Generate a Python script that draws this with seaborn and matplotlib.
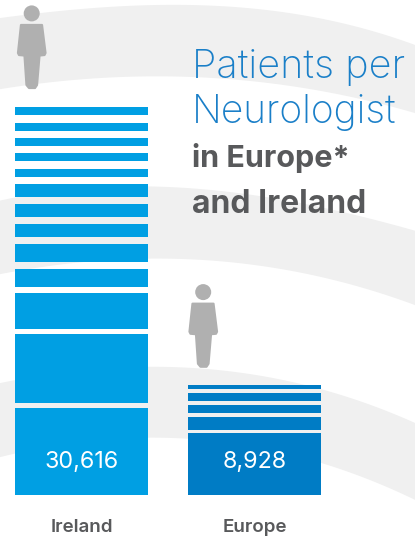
import numpy as np
import pandas as pd
import matplotlib
matplotlib.use("Agg")
import matplotlib.pyplot as plt
from matplotlib.patches import Circle, Polygon
import seaborn as sns

sns.set_theme(style="white")
plt.rcParams['font.family'] = ['Inter', 'DejaVu Sans']

regions = ["Ireland", "Europe"]
value_labels = ["30,616", "8,928"]
# stacked segments from the base upward (patients), with the blank gaps between them
ireland_segments = [6870, 5445, 2840, 1420, 1420, 1025, 1025, 1025, 630, 630, 630, 630, 630]
ireland_gaps = [395, 395, 475, 550, 550, 550, 550, 550, 630, 550, 550, 630]
europe_segments = [4890, 1025, 630, 630, 275]
europe_gaps = [235, 315, 315, 355]
bar_colors = {"Ireland": "#009fe3", "Europe": "#007cc5"}

W, H = 415, 540
fig = plt.figure(figsize=(W / 100, H / 100), dpi=100)

# background decoration, in pixel coordinates
bg = fig.add_axes([0, 0, 1, 1], zorder=0)
bg.set_xlim(0, W); bg.set_ylim(H, 0); bg.axis("off")
bands = [
    ([0, 60, 130, 200, 260, 315, 370, 415], [18, 11, 6, 5, 9, 18, 30, 45],
     [0, 80, 160, 220, 280, 315, 365, 415], [89, 80, 76, 78, 85, 90, 100, 113]),
    ([0, 80, 160, 230, 280, 315, 415], [200, 190, 187, 190, 197, 210, 230],
     [0, 80, 160, 287, 315, 415], [274, 263, 258, 270, 276, 305]),
    ([0, 80, 160, 250, 315, 415], [383, 371, 366, 375, 387, 423],
     [0, 80, 160, 250, 315, 415], [457, 443, 436, 448, 460, 500]),
]
xs = np.linspace(0, W, 200)
for xt, yt, xb, yb in bands:
    top = np.polyval(np.polyfit(xt, yt, 3), xs)
    bot = np.polyval(np.polyfit(xb, yb, 3), xs)
    bg.fill_between(xs, top, bot, color="#f0f0f0", lw=0)

body = np.array([(21, 25), (42, 25), (45.5, 53), (44.5, 55), (39.5, 55.5), (37, 85), (35, 88), (29, 88),
                 (26.5, 85), (24.5, 55.5), (19, 55), (18, 53)])
for dx, dy in [(0, 0), (171.5, 278.7)]:
    bg.add_patch(Circle((31.7 + dx, 13.4 + dy), 8, color="#b0b0b0", lw=0))
    bg.add_patch(Polygon(body + (dx, dy), closed=True, fc="#b0b0b0", ec="#b0b0b0",
                         lw=1.6, joinstyle="round"))

# bars
ax = fig.add_axes([0, 0, 1, 1], zorder=1)
ax.patch.set_alpha(0)
for region, segs, gaps in [("Ireland", ireland_segments, ireland_gaps),
                           ("Europe", europe_segments, europe_gaps)]:
    base = 0
    for i, v in enumerate(segs):
        df = pd.DataFrame({"region": [region], "patients": [v]})
        sns.barplot(data=df, x="region", y="patients", order=regions, color=bar_colors[region],
                    saturation=1, width=133 / 173, errorbar=None, bottom=base, ax=ax, linewidth=0)
        if i < len(gaps):
            base += v + gaps[i]

ax.set_xlim(-81.5 / 173, (W - 81.5) / 173)
scale = 78.9
ax.set_ylim(-(H - 495) * scale, 495 * scale)
ax.axis("off")

for i, (r, t) in enumerate(zip(regions, value_labels)):
    ax.text(i, (495 - 467.5) * scale, t, color="white", ha="center", va="baseline", fontsize=16.8)
    ax.text(i, (495 - 532) * scale, r, color="#58595b", ha="center", va="baseline",
            fontsize=13.5, fontweight="semibold")

def title(y, s, color, size, weight):
    fig.text(191.5 / W, 1 - y / H, s, color=color, fontsize=size, fontweight=weight,
             ha="left", va="baseline", zorder=3)

title(78, "Patients per", "#1a7fc8", 28.5, "light")
title(123, "Neurologist", "#1a7fc8", 28, "light")
title(167, "in Europe*", "#58595b", 22, "bold")
title(213, "and Ireland", "#58595b", 23, "bold")

fig.savefig("out.png", dpi=100)
